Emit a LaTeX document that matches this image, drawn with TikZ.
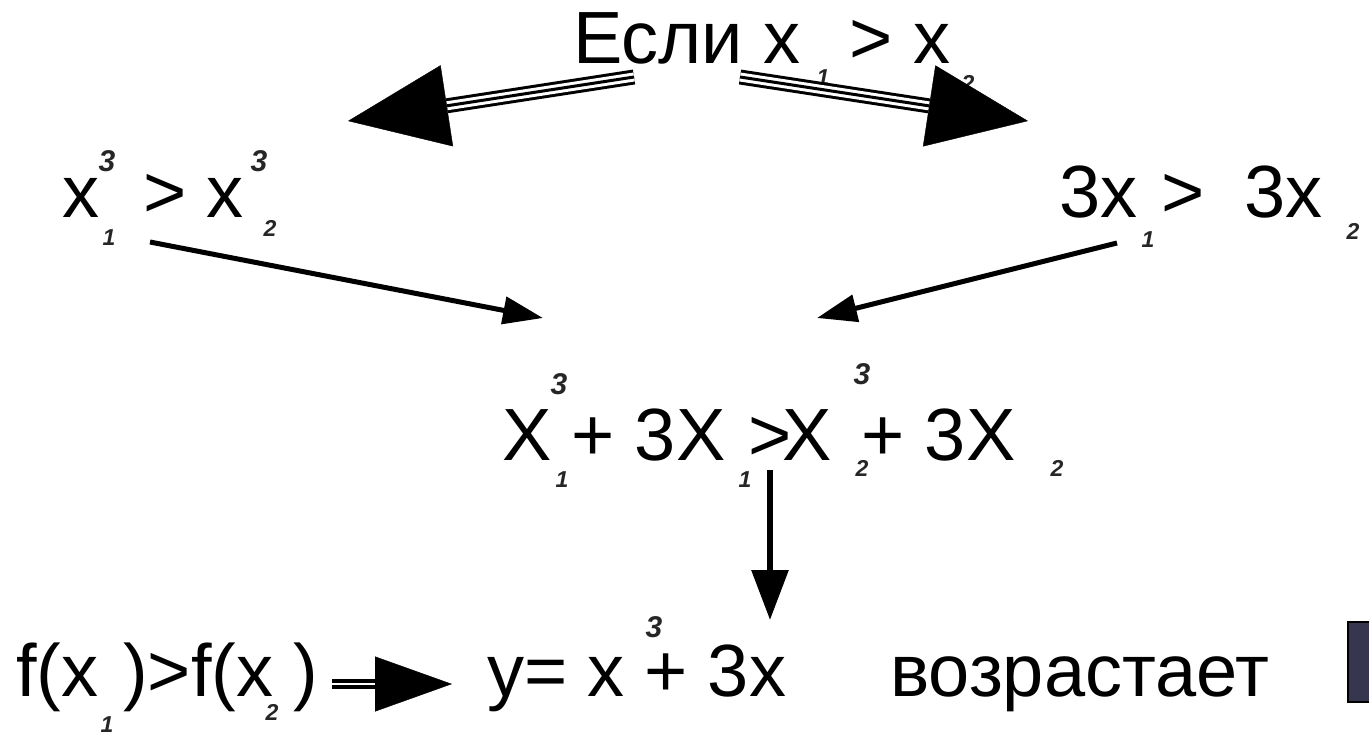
\documentclass[tikz,border=0pt]{standalone}
\usepackage{fontspec}
\setmainfont{Liberation Sans}
\usepackage{tikz}
\usetikzlibrary{arrows.meta, calc}
\definecolor{boxnavy}{HTML}{36364E}

\begin{document}
\begin{tikzpicture}[x=1pt, y=-1pt,
    txt/.style={font=\fontsize{74}{80}\selectfont, inner sep=0pt, anchor=base west},
    pw/.style={font=\fontsize{30}{32}\selectfont\bfseries\itshape, text=black!85, inner sep=0pt},
    ix/.style={font=\fontsize{23}{25}\selectfont\bfseries\itshape, text=black!85, inner sep=0pt},
    conn/.style={line width=5pt, -{Triangle[length=40pt, width=27pt]}},
    bighead/.style={-{Triangle[length=100pt, width=82pt]}},
]
    \useasboundingbox (0,0) rectangle (1369,737);

    \node[txt] (esli) at (573, 63) {Если x};
    \node[txt] (esliGt) at (849, 63) {>};
    \node[txt] (esliX) at (913, 63) {x};
    \node[ix] at (823, 78) {1};
    \node[ix] at (968, 83) {2};

    \node[txt] (cubeA) at (62, 217) {x};
    \node[txt] (cubeGt) at (143, 217) {>};
    \node[txt] (cubeB) at (206, 217) {x};
    \node[pw] at (107, 161) {3};
    \node[ix] at (109, 238) {1};
    \node[pw] at (259, 161) {3};
    \node[ix] at (270, 228) {2};

    \node[txt] (linA) at (1059, 217) {3x};
    \node[txt] (linGt) at (1161, 217) {>};
    \node[txt] (linB) at (1244, 217) {3x};
    \node[ix] at (1148, 240) {1};
    \node[ix] at (1353, 231) {2};

    \node[txt] (sumA) at (502, 460) {X};
    \node[txt] (sumAp) at (571, 460) {+ 3X};
    \node[txt] (sumGt) at (748, 460) {>};
    \node[txt] (sumB) at (782, 460) {X};
    \node[txt] (sumBp) at (861, 460) {+ 3X};
    \node[pw] at (559, 384) {3};
    \node[ix] at (562, 480) {1};
    \node[ix] at (745, 480) {1};
    \node[pw] at (862, 374) {3};
    \node[ix] at (862, 468) {2};
    \node[ix] at (1057, 468) {2};

    \node[txt] (fA) at (16, 696) {f(x};
    \node[txt] (fB) at (123, 696) {)>f(x};
    \node[txt] (fC) at (293, 696) {)};
    \node[ix] at (107, 725) {1};
    \node[ix] at (272, 712) {2};

    \node[txt] (func) at (487, 696) {y= x};
    \node[txt] (funcP) at (644, 696) {+ 3x};
    \node[pw] at (654, 627) {3};
    \node[txt] (grows) at (890, 696) {возрастает};

    \draw[line width=2pt, fill=boxnavy] (1348, 622) rectangle (1380, 702);

    \coordinate (fromL) at (634, 77);
    \coordinate (toL) at (348, 121);
    \coordinate (fromR) at (740, 77);
    \coordinate (toR) at (1028, 121);
    \coordinate (fromCube) at (150, 242);
    \coordinate (toCube) at (543, 318);
    \coordinate (fromLin) at (1117, 243);
    \coordinate (toLin) at (817, 318);
    \coordinate (fromSum) at (770, 470);
    \coordinate (toSum) at (770, 620);
    \coordinate (fromF) at (332, 684);
    \coordinate (toF) at (452, 684);

    \draw[line width=15pt, shorten >=100pt] (fromL) -- (toL);
    \draw[white, line width=9pt, shorten >=100pt] (fromL) -- (toL);
    \draw[line width=3pt, shorten >=100pt] (fromL) -- (toL);
    \draw[bighead] ($(toL)!100pt!(fromL)$) -- (toL);

    \draw[line width=15pt, shorten >=100pt] (fromR) -- (toR);
    \draw[white, line width=9pt, shorten >=100pt] (fromR) -- (toR);
    \draw[line width=3pt, shorten >=100pt] (fromR) -- (toR);
    \draw[bighead] ($(toR)!100pt!(fromR)$) -- (toR);

    \draw[conn] (fromCube) -- (toCube);
    \draw[conn] (fromLin) -- (toLin);
    \draw[line width=6pt, -{Triangle[length=50pt, width=36pt]}] (fromSum) -- (toSum);

    \draw[line width=4pt, double=white, double distance=2pt, shorten >=77pt] (fromF) -- (toF);
    \draw[-{Triangle[length=77pt, width=55pt]}] ($(toF)!77pt!(fromF)$) -- (toF);
\end{tikzpicture}
\end{document}
